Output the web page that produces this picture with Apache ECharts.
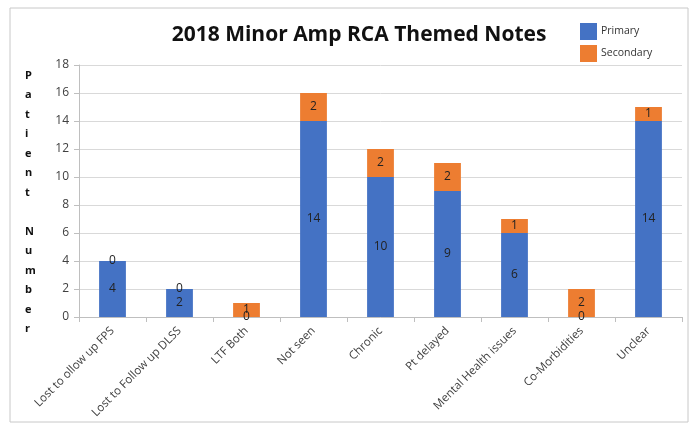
<!DOCTYPE html>
<html>
<head>
<meta charset="utf-8">
<script src="https://cdn.jsdelivr.net/npm/echarts@6/dist/echarts.min.js"></script>
<style>
  html, body { margin: 0; padding: 0; background: #fff; }
  #chart { width: 694px; height: 425px; }
</style>
</head>
<body>
<div id="chart"></div>
<script>
// chart data
var categories = ["Lost to ollow up FPS", "Lost to Follow up DLSS", "LTF Both", "Not seen",
  "Chronic", "Pt delayed", "Mental Health issues", "Co-Morbidities", "Unclear"];
var primary = [4, 2, 0, 14, 10, 9, 6, 0, 14];
var secondary = [0, 0, 1, 2, 2, 2, 1, 2, 1];
var yTicks = [0, 2, 4, 6, 8, 10, 12, 14, 16, 18];
var yTitle = "Patient Number";

var chart = echarts.init(document.getElementById("chart"));

// vertical stacked letters for the y axis title
var yTitleText = yTitle.split("").map(function (c) { return c === " " ? "" : c; }).join("\n");

var labelStyle = {
  show: true,
  position: "inside",
  color: "#222",
  fontSize: 12,
  fontFamily: "Open Sans"
};

var option = {
  animation: false,
  backgroundColor: "#fff",
  title: {
    text: "2018 Minor Amp RCA Themed Notes",
    left: 354,
    top: 20,
    textAlign: "center",
    textStyle: { fontSize: 21, fontWeight: "bold", color: "#111", fontFamily: "Open Sans" }
  },
  legend: {
    orient: "vertical",
    left: 575,
    top: 18,
    icon: "rect",
    itemWidth: 17,
    itemHeight: 17,
    itemGap: 5,
    data: ["Primary", "Secondary"],
    textStyle: { fontSize: 10.5, color: "#333", fontFamily: "Open Sans", padding: [0, 0, 0, -1] }
  },
  grid: { left: 79, right: 12, top: 65, bottom: 108 },
  xAxis: {
    type: "category",
    data: categories,
    axisLine: { lineStyle: { color: "#bfbfbf" } },
    axisTick: { show: true, alignWithLabel: false, length: 5, lineStyle: { color: "#bfbfbf" } },
    axisLabel: {
      rotate: 45,
      interval: 0,
      margin: 12,
      color: "#404040",
      fontSize: 11.5,
      fontFamily: "Open Sans"
    }
  },
  yAxis: {
    type: "value",
    min: yTicks[0],
    max: yTicks[yTicks.length - 1],
    interval: 2,
    axisLine: { show: true, lineStyle: { color: "#bfbfbf" } },
    axisTick: { show: true, length: 5, lineStyle: { color: "#bfbfbf" } },
    axisLabel: { color: "#404040", fontSize: 12, margin: 10, fontFamily: "Open Sans" },
    splitLine: { lineStyle: { color: "#d9d9d9" } }
  },
  graphic: [
    {
      type: "rect",
      shape: { x: 10, y: 8, width: 678, height: 414 },
      style: { fill: "none", stroke: "#c8c8c8", lineWidth: 1 },
      silent: true
    },
    {
      type: "text",
      left: 25,
      top: 66,
      style: {
        text: yTitleText,
        fontSize: 11,
        fontWeight: "bold",
        lineHeight: 19.5,
        fill: "#111",
        align: "center",
        fontFamily: "Open Sans"
      }
    }
  ],
  series: [
    {
      name: "Primary",
      type: "bar",
      stack: "total",
      barWidth: "40%",
      data: primary,
      itemStyle: { color: "#4472C4" },
      label: labelStyle
    },
    {
      name: "Secondary",
      type: "bar",
      stack: "total",
      barWidth: "40%",
      data: secondary,
      itemStyle: { color: "#ED7D31" },
      label: labelStyle
    }
  ]
};

chart.setOption(option);
</script>
</body>
</html>
